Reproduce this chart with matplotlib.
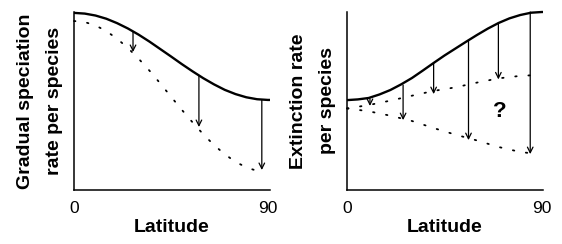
import matplotlib
matplotlib.use("Agg")
import matplotlib.pyplot as plt

plt.rcParams['font.family'] = ['Liberation Sans', 'DejaVu Sans']

# ---------------- data ----------------
# Left panel: gradual speciation rate per species
left_lat_solid = [0, 5, 10, 15, 20, 25, 30, 35, 40, 45, 50, 55, 60, 65, 70, 75, 80, 85, 90, 91]
left_solid = [100.1, 99.7, 98.6, 96.8, 94.3, 91.3, 87.8, 83.9, 79.7, 75.5,
              71.2, 67.1, 63.2, 59.7, 56.6, 54.2, 52.4, 51.3, 50.9, 50.9]
left_lat_dotted = [0, 5, 10, 15, 20, 25, 30, 35, 40, 45, 50, 55, 60, 65, 70, 75, 80, 85, 88.6]
left_dotted = [95.5, 94.9, 93.0, 89.8, 85.5, 80.3, 74.2, 67.5, 60.3, 52.8,
               45.4, 38.3, 31.5, 25.4, 20.2, 15.9, 12.8, 10.8, 10.2]
left_arrow_lat = [27.4, 58.0, 87.2]
left_arrow_from = [89.6, 64.7, 51.0]
left_arrow_to = [78.0, 35.6, 11.3]

# Right panel: extinction rate per species
right_lat_solid = [0, 5, 10, 15, 20, 25, 30, 35, 40, 45, 50, 55, 60, 65, 70, 75, 80, 85, 90, 90.5]
right_solid = [50.8, 51.2, 52.0, 54.0, 56.5, 59.7, 63.3, 67.5, 71.8, 76.0,
               79.9, 83.8, 87.6, 91.2, 94.4, 97.0, 98.9, 100.2, 100.6, 100.6]
right_lat_dotted = [0, 10, 20, 30, 40, 50, 60, 70, 80, 88]
right_upper_dotted = [46.1, 48.0, 50.5, 53.3, 56.0, 58.0, 60.7, 63.1, 64.5, 65.0]
right_lower_dotted = [46.1, 44.5, 42.0, 39.0, 35.0, 31.3, 28.0, 24.3, 21.5, 20.3]
right_arrow_lat = [10.6, 25.9, 40.0, 56.1, 69.9, 84.6]
right_arrow_from = [51.6, 59.3, 71.6, 84.7, 94.5, 100.6]
right_arrow_to = [47.5, 39.5, 54.2, 28.2, 62.5, 20.3]

xtick_vals = [0, 90]
xtick_labels = ["0", "90"]
x_label = "Latitude"
left_ylabel = "Gradual speciation\nrate per species"
right_ylabel = "Extinction rate\nper species"
question_pos = (70.6, 44.2)

# ---------------- figure ----------------
W, H = 562, 244
fig = plt.figure(figsize=(W / 100, H / 100), dpi=100)

def px_axes(x0, x1, y_top, y_bot):
    return fig.add_axes([x0 / W, 1 - y_bot / H, (x1 - x0) / W, (y_bot - y_top) / H])

axL = px_axes(74, 270, 12, 190)
axR = px_axes(347, 543, 12, 190)

dot_style = (0, (0.8, 6.5))

def style(ax, xmax, ylabel, labelpad):
    ax.set_xlim(0, xmax)
    ax.set_ylim(0, 100.6)
    for s in ['top', 'right']:
        ax.spines[s].set_visible(False)
    for s in ['left', 'bottom']:
        ax.spines[s].set_linewidth(1.1)
        ax.spines[s].set_color('black')
    ax.set_yticks([])
    ax.set_xticks(xtick_vals)
    ax.set_xticklabels(xtick_labels, fontsize=12.5)
    ax.tick_params(axis='x', length=0, pad=8)
    ax.set_xlabel(x_label, fontsize=14, fontweight='bold', labelpad=2)
    ax.set_ylabel(ylabel, fontsize=14, fontweight='bold', linespacing=1.9,
                  labelpad=labelpad)

def arrows(ax, lats, y0s, y1s):
    for x, a, b in zip(lats, y0s, y1s):
        ax.annotate("", xy=(x, b), xytext=(x, a),
                    arrowprops=dict(arrowstyle='->', lw=0.9, color='black',
                                    mutation_scale=10, shrinkA=0, shrinkB=0))

# Left panel
axL.plot(left_lat_solid, left_solid, color='black', lw=1.7, solid_capstyle='butt', clip_on=False)
axL.plot(left_lat_dotted, left_dotted, color='black', lw=1.3,
         linestyle=dot_style, dash_capstyle='round', clip_on=False)
arrows(axL, left_arrow_lat, left_arrow_from, left_arrow_to)
style(axL, 91, left_ylabel, 8)

# Right panel
axR.plot(right_lat_solid, right_solid, color='black', lw=1.7, solid_capstyle='butt', clip_on=False)
axR.plot(right_lat_dotted, right_upper_dotted, color='black', lw=1.3,
         linestyle=dot_style, dash_capstyle='round', clip_on=False)
axR.plot(right_lat_dotted, right_lower_dotted, color='black', lw=1.3,
         linestyle=dot_style, dash_capstyle='round', clip_on=False)
arrows(axR, right_arrow_lat, right_arrow_from, right_arrow_to)
axR.text(question_pos[0], question_pos[1], "?", fontsize=16, fontweight='bold',
         ha='center', va='center')
style(axR, 90.5, right_ylabel, 8)

fig.savefig("out.png", dpi=100)
